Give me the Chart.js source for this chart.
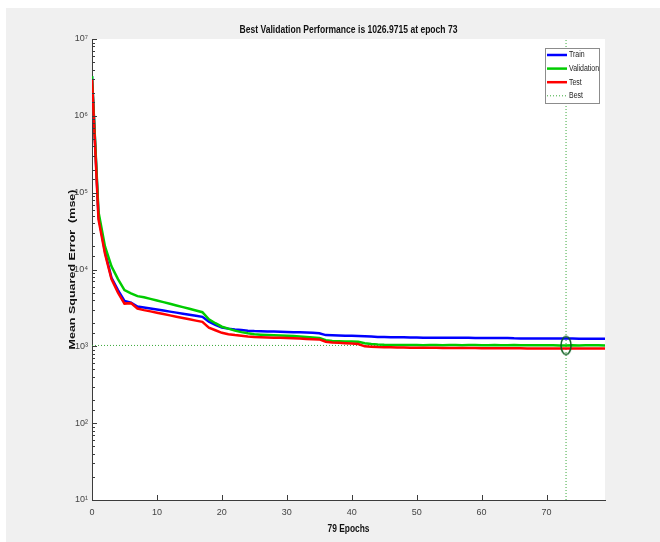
<!DOCTYPE html>
<html lang="en">
  <head>
    <meta charset="UTF-8" />
    <title>Best Validation Performance</title>
    <script src="https://cdn.jsdelivr.net/npm/chart.js"></script>
    <style>
      html,
      body {
        margin: 0;
        padding: 0;
        background: #f0f0f0;
        overflow: hidden;
      }
      canvas {
        display: block;
      }
    </style>
  </head>

  <body>
    <canvas id="perfChart" width="660" height="542"></canvas>

    <script>
      // Epochs 0..79
      const epochs = Array.from({ length: 80 }, (_, i) => i);

      // Mean squared error per epoch
      const trainMse = [
        3.3e6, 50000, 17000, 7800, 5400, 3900, 3700, 3300, 3210, 3110,
        3015, 2920, 2830, 2745, 2660, 2575, 2500, 2420, 2100, 1900,
        1760, 1700, 1660, 1630, 1600, 1580, 1570, 1560, 1555, 1550,
        1540, 1530, 1520, 1510, 1500, 1480, 1400, 1390, 1380, 1375,
        1370, 1360, 1350, 1340, 1320, 1318, 1315, 1312, 1310, 1305,
        1300, 1298, 1296, 1294, 1292, 1290, 1290, 1289, 1289, 1288,
        1288, 1287, 1287, 1286, 1286, 1270, 1268, 1266, 1265, 1264,
        1263, 1262, 1261, 1260, 1260, 1259, 1259, 1258, 1258, 1257,
      ];
      const valMse = [
        3.3e6, 56000, 20000, 11000, 7500, 5400, 4900, 4500, 4360, 4150,
        3950, 3760, 3580, 3400, 3240, 3080, 2930, 2780, 2250, 2000,
        1800, 1700, 1600, 1530, 1480, 1440, 1420, 1405, 1395, 1385,
        1375, 1360, 1340, 1320, 1305, 1285, 1200, 1175, 1165, 1160,
        1155, 1150, 1100, 1070, 1055, 1045, 1042, 1040, 1044, 1038,
        1041, 1036, 1039, 1043, 1035, 1040, 1037, 1034, 1038, 1042,
        1036, 1033, 1039, 1035, 1032, 1037, 1034, 1031, 1036, 1033,
        1030, 1034, 1029, 1026.9715, 1031, 1028, 1033, 1030, 1032, 1029,
      ];
      const testMse = [
        3.0e6, 45000, 16000, 7500, 5000, 3600, 3650, 3100, 2960, 2850,
        2740, 2630, 2530, 2430, 2340, 2250, 2160, 2080, 1750, 1620,
        1500, 1440, 1400, 1370, 1340, 1320, 1310, 1300, 1290, 1290,
        1280, 1270, 1260, 1250, 1240, 1230, 1150, 1120, 1110, 1100,
        1090, 1070, 1000, 990, 980, 975, 970, 968, 965, 962,
        960, 958, 956, 955, 953, 952, 951, 950, 949, 948,
        947, 946, 945, 944, 943, 942, 941, 940, 940, 939,
        939, 938, 938, 937, 937, 936, 936, 935, 935, 935,
      ];

      const bestEpoch = 73;
      const bestPerf = 1026.9715;

      // Axis ranges and tick values
      const xRange = [0, 79];
      const yRange = [10, 1e7];
      const xTickValues = [0, 10, 20, 30, 40, 50, 60, 70];

      const titleText = "Best Validation Performance is 1026.9715 at epoch 73";
      const xTitle = "79 Epochs";
      const yTitle = "Mean Squared Error  (mse)";

      const SANS = "'Liberation Sans', Arial, sans-serif";
      const SUP = ["⁰", "¹", "²", "³", "⁴", "⁵", "⁶", "⁷", "⁸", "⁹"];
      const isDecade = (v) => {
        const e = Math.log10(v);
        return Math.abs(e - Math.round(e)) < 1e-9;
      };

      // text squeezed/stretched to a given length (the figure was resized unevenly)
      function fitText(ctx, text, cx, cy, len, font, angle) {
        ctx.save();
        ctx.font = font;
        const w = ctx.measureText(text).width;
        ctx.translate(cx, cy);
        ctx.rotate(angle || 0);
        ctx.scale(len / w, 1);
        ctx.textAlign = "center";
        ctx.textBaseline = "middle";
        ctx.fillStyle = "#111";
        ctx.fillText(text, 0, 0);
        ctx.restore();
      }

      // Ellipse marker around the best point
      const ring = document.createElement("canvas");
      ring.width = 14;
      ring.height = 22;
      const rc = ring.getContext("2d");
      rc.strokeStyle = "#0b5d1e";
      rc.lineWidth = 1.5;
      rc.beginPath();
      rc.ellipse(7, 11, 5, 9, 0, 0, 2 * Math.PI);
      rc.stroke();

      // Figure background + white axes box
      const figureBg = {
        id: "figureBg",
        beforeDraw(chart) {
          const { ctx, chartArea: a } = chart;
          ctx.save();
          ctx.fillStyle = "#fff";
          ctx.fillRect(0, 0, chart.width, chart.height);
          ctx.fillStyle = "#f0f0f0";
          ctx.fillRect(6, 8, chart.width - 6, chart.height - 8);
          ctx.fillStyle = "#fff";
          ctx.fillRect(a.left, a.top, a.right - a.left, a.bottom - a.top);
          ctx.restore();
        },
      };

      // Tick marks pointing inward, like MATLAB
      const innerTicks = {
        id: "innerTicks",
        afterDatasetsDraw(chart) {
          const { ctx, chartArea: a, scales } = chart;
          ctx.save();
          ctx.strokeStyle = "#3c3c3c";
          ctx.lineWidth = 1;
          ctx.beginPath();
          scales.y.ticks.forEach((t) => {
            const py = Math.round(scales.y.getPixelForValue(t.value)) + 0.5;
            ctx.moveTo(a.left, py);
            ctx.lineTo(a.left + (isDecade(t.value) ? 5 : 3), py);
          });
          scales.x.ticks.forEach((t) => {
            const px = Math.round(scales.x.getPixelForValue(t.value)) + 0.5;
            ctx.moveTo(px, a.bottom);
            ctx.lineTo(px, a.bottom - 5);
          });
          ctx.stroke();
          ctx.restore();
        },
      };

      // Title and axis titles
      const titles = {
        id: "titles",
        afterDraw(chart) {
          const { ctx, chartArea: a } = chart;
          const cx = (a.left + a.right) / 2;
          fitText(ctx, titleText, cx, 30, 218, "bold 11px " + SANS);
          fitText(ctx, xTitle, cx, 529, 42, "bold 11px " + SANS);
          fitText(ctx, yTitle, 72, (a.top + a.bottom) / 2, 160, "bold 9.5px " + SANS, -Math.PI / 2);
        },
      };

      // Legend box in the top right corner of the axes
      const boxLegend = {
        id: "boxLegend",
        afterDraw(chart) {
          const { ctx } = chart;
          const items = chart.data.datasets.filter((d) => !d.noLegend);
          const bx = 545,
            by = 48,
            bw = 54,
            bh = 55;
          ctx.save();
          ctx.fillStyle = "#fff";
          ctx.fillRect(bx, by, bw, bh);
          ctx.strokeStyle = "#8c8c8c";
          ctx.lineWidth = 1;
          ctx.strokeRect(bx + 0.5, by + 0.5, bw, bh);
          ctx.textBaseline = "middle";
          ctx.fillStyle = "#222";
          items.forEach((d, i) => {
            const y = 55 + i * 13.6;
            ctx.strokeStyle = d.borderColor;
            ctx.lineWidth = d.borderWidth;
            ctx.setLineDash(d.borderDash || []);
            ctx.beginPath();
            ctx.moveTo(547, y);
            ctx.lineTo(567, y);
            ctx.stroke();
            ctx.setLineDash([]);
            ctx.save();
            ctx.font = "8.5px " + SANS;
            ctx.translate(569, y);
            ctx.scale(0.82, 1);
            ctx.fillText(d.label, 0, 0);
            ctx.restore();
          });
          ctx.restore();
        },
      };

      const ctx = document.getElementById("perfChart").getContext("2d");
      new Chart(ctx, {
        type: "line",
        data: {
          labels: epochs,
          datasets: [
            {
              label: "Train",
              data: trainMse,
              borderColor: "#0000ff",
              borderWidth: 2.5,
              order: 3,
            },
            {
              label: "Validation",
              data: valMse,
              borderColor: "#00cc00",
              borderWidth: 2.5,
              order: 2,
            },
            {
              label: "Test",
              data: testMse,
              borderColor: "#ff0000",
              borderWidth: 2.5,
              order: 1,
            },
            {
              label: "Best",
              data: [
                { x: bestEpoch, y: yRange[0] },
                { x: bestEpoch, y: yRange[1] },
              ],
              borderColor: "#3aa83a",
              borderWidth: 1,
              borderDash: [1, 2],
              order: 5,
            },
            {
              label: "Best level",
              noLegend: true,
              data: [
                { x: xRange[0], y: bestPerf },
                { x: xRange[1], y: bestPerf },
              ],
              borderColor: "#3aa83a",
              borderWidth: 1,
              borderDash: [1, 2],
              order: 6,
            },
            {
              label: "Best point",
              noLegend: true,
              data: [{ x: bestEpoch, y: bestPerf }],
              showLine: false,
              pointStyle: ring,
              pointRadius: 6,
              order: 0,
            },
          ],
        },
        options: {
          responsive: false,
          animation: false,
          devicePixelRatio: 1,
          layout: { padding: { left: 0, right: 55, top: 39, bottom: 0 } },
          elements: {
            line: { tension: 0, fill: false },
            point: { radius: 0 },
          },
          plugins: {
            legend: { display: false },
            tooltip: { enabled: false },
            title: { display: false },
          },
          scales: {
            x: {
              type: "linear",
              min: xRange[0],
              max: xRange[1],
              afterBuildTicks: (scale) => {
                scale.ticks = xTickValues.map((v) => ({ value: v }));
              },
              afterFit: (scale) => {
                scale.height = 42;
              },
              grid: { display: false, drawTicks: false },
              border: { display: true, color: "#3c3c3c", width: 1 },
              ticks: {
                color: "#444",
                padding: 7,
                font: { family: SANS, size: 9 },
                maxRotation: 0,
              },
            },
            y: {
              type: "logarithmic",
              min: yRange[0],
              max: yRange[1],
              afterFit: (scale) => {
                scale.width = 92;
              },
              grid: { display: false, drawTicks: false },
              border: { display: true, color: "#3c3c3c", width: 1 },
              ticks: {
                autoSkip: false,
                color: "#444",
                padding: 4,
                font: { family: SANS, size: 9 },
                callback: (v) =>
                  isDecade(v) ? "10" + SUP[Math.round(Math.log10(v))] : "",
              },
            },
          },
        },
        plugins: [figureBg, innerTicks, titles, boxLegend],
      });
    </script>
  </body>
</html>
